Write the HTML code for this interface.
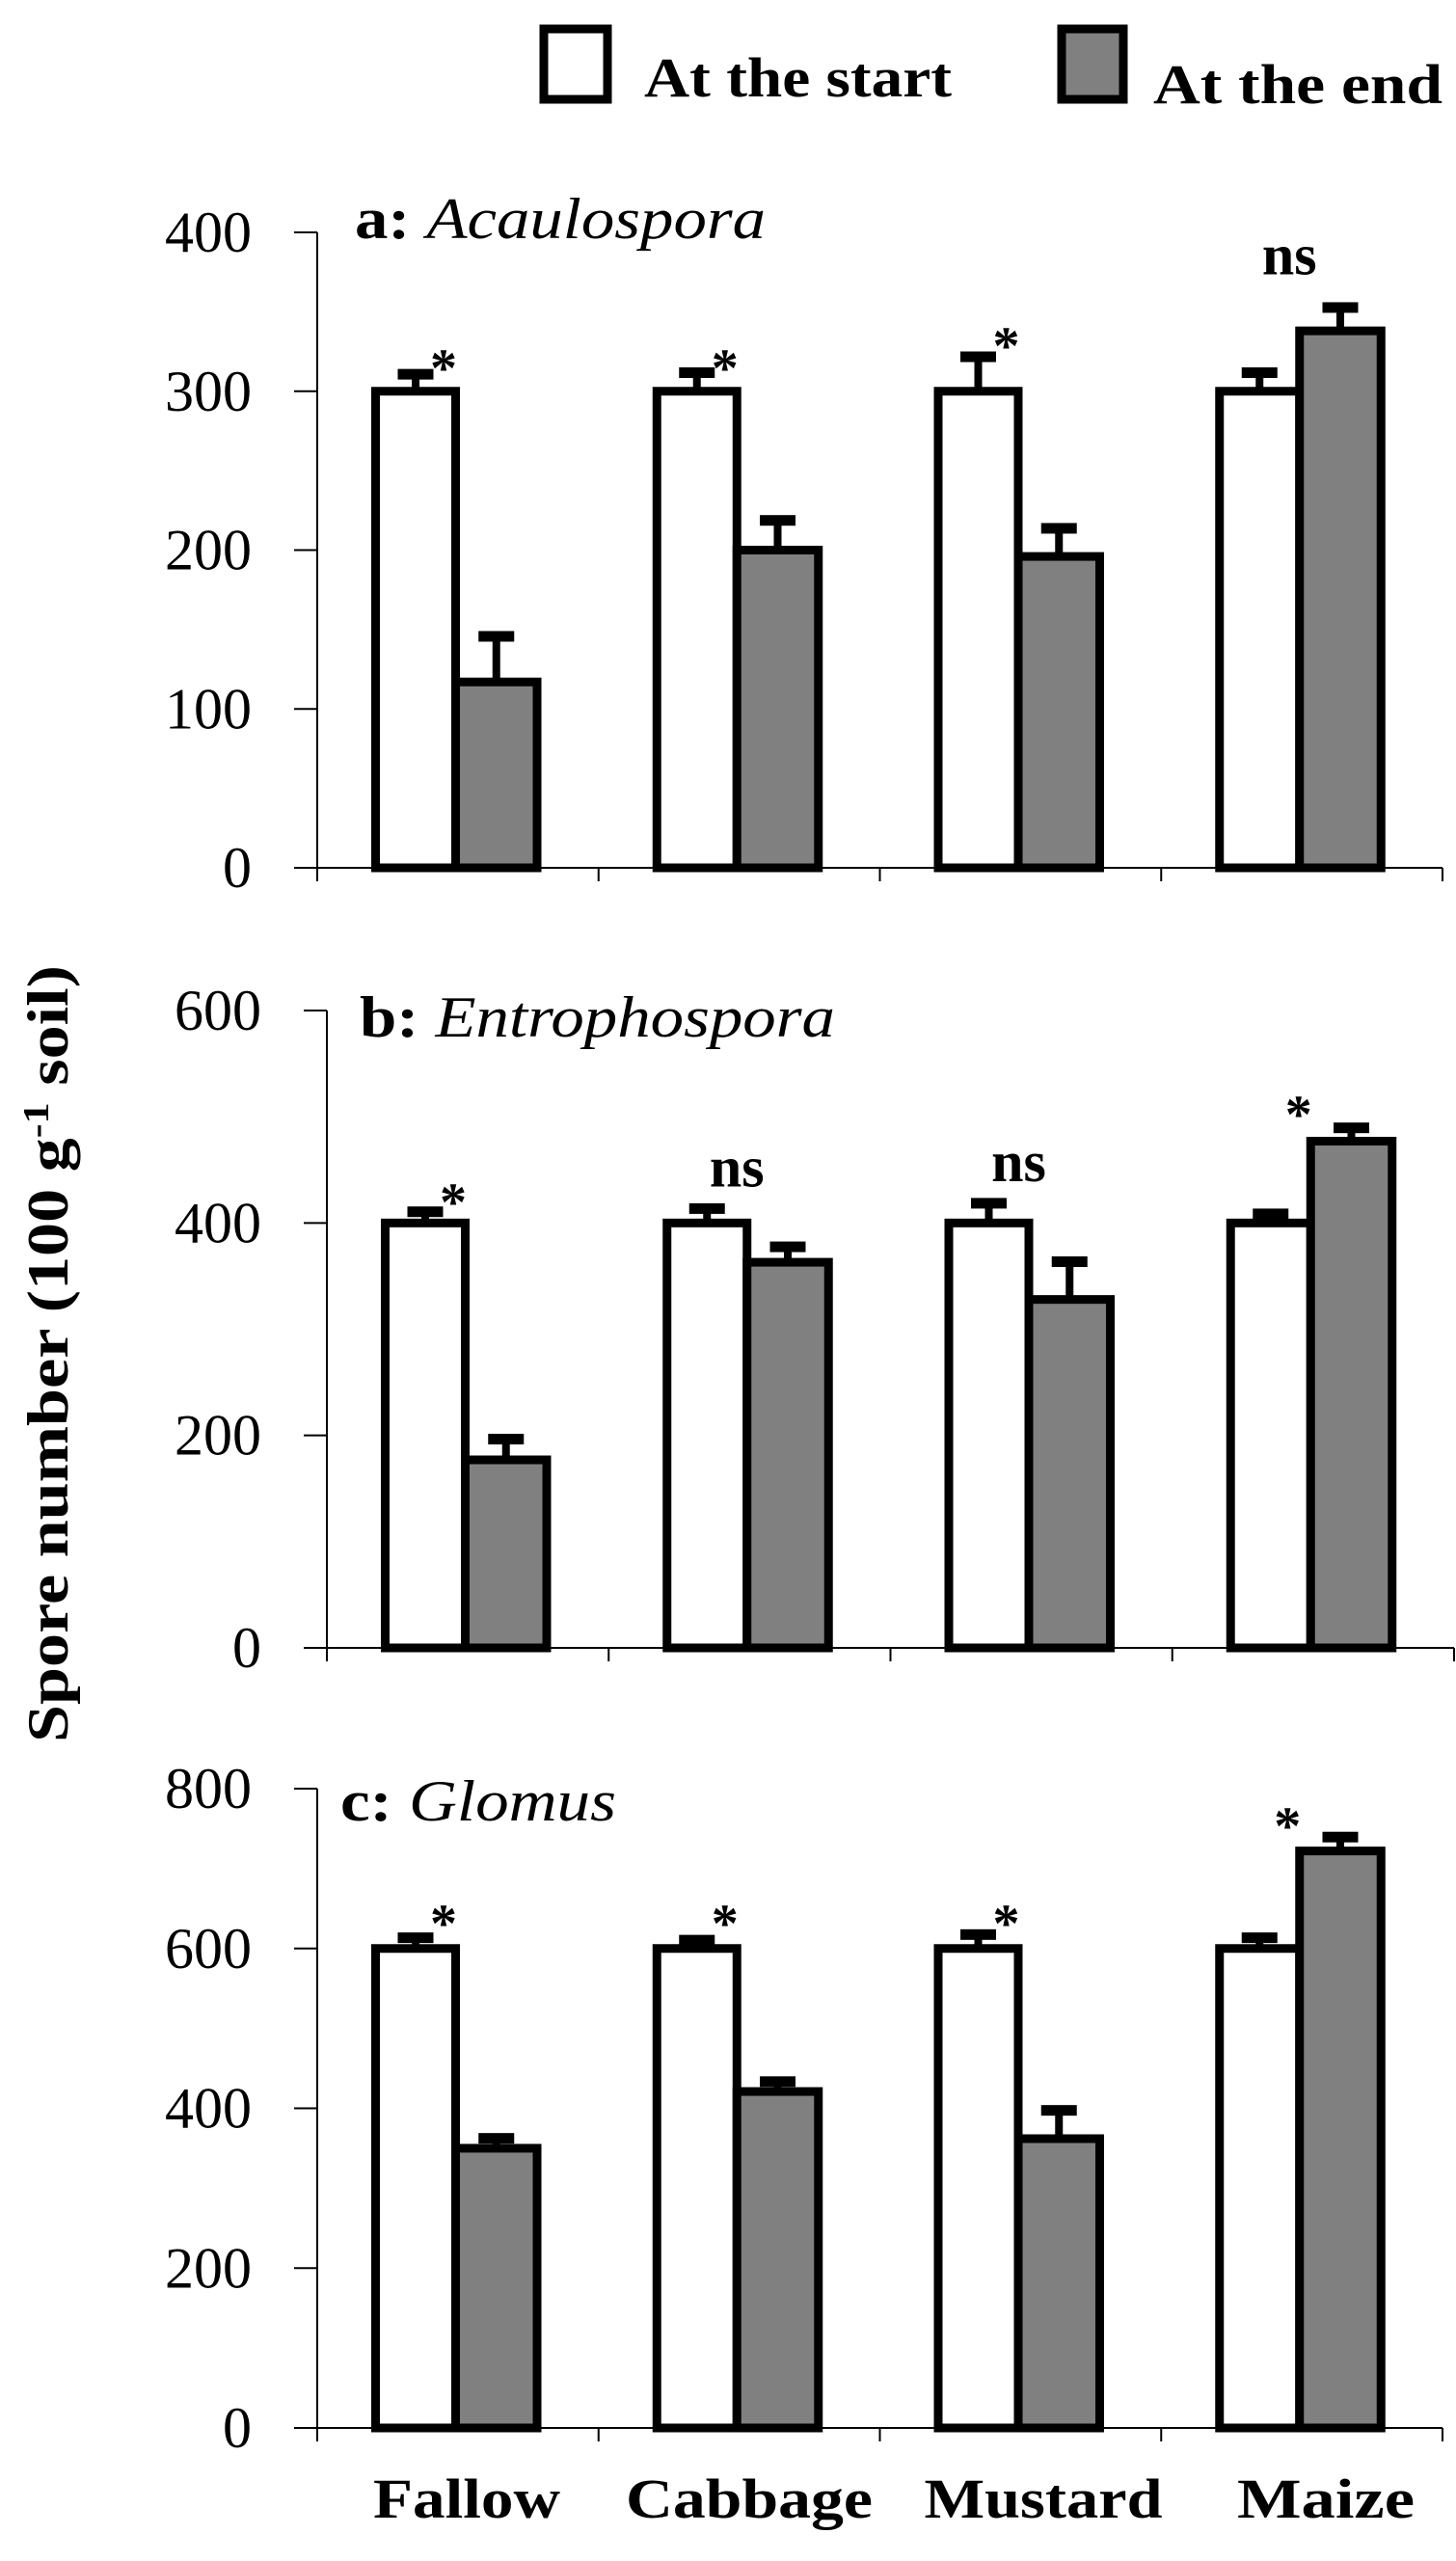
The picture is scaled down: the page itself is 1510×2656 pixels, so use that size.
<!DOCTYPE html>
<html><head><meta charset="utf-8"><style>
html,body{margin:0;padding:0;background:#fff;}
svg{display:block;}
text{font-family:"Liberation Serif",serif;}
</style></head><body>
<svg id="chart" width="1510" height="2656" viewBox="0 0 1510 2656" xmlns="http://www.w3.org/2000/svg">
<g>
<rect x="564" y="30" width="66" height="73" fill="#fff" stroke="#000" stroke-width="9"/>
<text x="668" y="100" font-size="58" font-weight="bold" textLength="319" lengthAdjust="spacingAndGlyphs">At the start</text>
<rect x="1101" y="30" width="64" height="73" fill="#808080" stroke="#000" stroke-width="9"/>
<text x="1196" y="107" font-size="58" font-weight="bold" textLength="300" lengthAdjust="spacingAndGlyphs">At the end</text>
</g>
<text transform="translate(70,1404) rotate(-90)" text-anchor="middle" font-size="60" font-weight="bold" textLength="806" lengthAdjust="spacingAndGlyphs">Spore number (100 g<tspan dy="-20" font-size="38">-1</tspan><tspan dy="20"> soil)</tspan></text>
<g id="panels"></g>
<g>
<text x="484" y="2611" text-anchor="middle" font-size="58" font-weight="bold" textLength="194" lengthAdjust="spacingAndGlyphs">Fallow</text>
<text x="777" y="2611" text-anchor="middle" font-size="58" font-weight="bold" textLength="256" lengthAdjust="spacingAndGlyphs">Cabbage</text>
<text x="1082" y="2611" text-anchor="middle" font-size="58" font-weight="bold" textLength="247" lengthAdjust="spacingAndGlyphs">Mustard</text>
<text x="1375" y="2611" text-anchor="middle" font-size="58" font-weight="bold" textLength="184" lengthAdjust="spacingAndGlyphs">Maize</text>
</g>
</svg>
<script>
const categories = ["Fallow","Cabbage","Mustard","Maize"];
// Panel a: Acaulospora
const aStart = [300,300,300,300];
const aStartErr = [311,312,322,312];
const aEnd = [117,200,196,338];
const aEndErr = [146,219,214,353];
const aSig = ["*","*","*","ns"];
const aSigY = [319,319,333,382];
const aTicks = [0,100,200,300,400];
// Panel b: Entrophospora
const bStart = [400,400,400,400];
const bStartErr = [411,414,419,409];
const bEnd = [177,363,328,477];
const bEndErr = [197,378,364,490];
const bSig = ["*","ns","ns","*"];
const bSigY = [426,447,452,509];
const bTicks = [0,200,400,600];
// Panel c: Glomus
const cStart = [600,600,600,600];
const cStartErr = [614,611,618,614];
const cEnd = [350,421,362,722];
const cEndErr = [363,434,398,740];
const cSig = ["*","*","*","*"];
const cSigY = [640,640,640,762];
const cTicks = [0,200,400,600,800];

const NS = "http://www.w3.org/2000/svg";
const root = document.getElementById('panels');
function mk(tag, attrs, parent){
  const e = document.createElementNS(NS, tag);
  for (const k in attrs) e.setAttribute(k, attrs[k]);
  parent.appendChild(e); return e;
}
function panel(cfg){
  const g = mk('g', {}, root);
  
  
  const y = v => cfg.y0 - v / cfg.max * (cfg.y0 - cfg.yTop);
  const cw = (cfg.xEnd - cfg.x0) / categories.length;
  const ya = mk('line', {x1:cfg.x0, y1:cfg.yTop, x2:cfg.x0, y2:cfg.y0, stroke:'#000','stroke-width':2}, g);
  
  
  cfg.ticks.forEach(t => {
    const ty = y(t);
    const tl = mk('line', {x1:cfg.x0-24, y1:ty, x2:cfg.x0, y2:ty, stroke:'#000','stroke-width':2}, g);
    
    
    const tx = mk('text', {x:cfg.x0-68, y:ty+20, 'text-anchor':'end','font-size':60}, g);
    tx.textContent = t;
    
    
  });
  const title = mk('text', {x:cfg.titleX, y:cfg.titleY, 'font-size':60, textLength:cfg.titleW, lengthAdjust:'spacingAndGlyphs'}, g);
  title.innerHTML = '<tspan font-weight="bold">' + cfg.label + '</tspan> <tspan font-style="italic">' + cfg.genus + '</tspan>';
  
  
  categories.forEach((c, i) => {
    const cx = cfg.x0 + cw * i;
    const wx = cx + 60.5, gx = cx + 143.5;
    const err = (bx, w, top, val) => {
      const mx = bx + w/2;
      const st = mk('rect', {x:mx-4, y:y(top), width:8, height:Math.max(0, y(val)-y(top))}, g);
      
      
      const cp = mk('rect', {x:mx-18.5, y:y(top)-5, width:37, height:11}, g);
      
      
    };
    err(wx, 83, cfg.startErr[i], cfg.start[i]);
    err(gx, 84.5, cfg.endErr[i], cfg.end[i]);
    const r1 = mk('rect', {x:wx, y:y(cfg.start[i]), width:83, height:y(0)-y(cfg.start[i]), fill:'#fff', stroke:'#000','stroke-width':9}, g);
    
    
    const r2 = mk('rect', {x:gx, y:y(cfg.end[i]), width:84.5, height:y(0)-y(cfg.end[i]), fill:'#808080', stroke:'#000','stroke-width':9}, g);
    
    
    const s = cfg.sig[i];
    const isNs = s === 'ns';
    const st = mk('text', {x: cx + (isNs ? 133 : 131), y: y(cfg.sigY[i]) + (isNs ? 14 : 26), 'text-anchor':'middle', 'font-size': isNs?60:56, 'font-weight': 'bold'}, g);
    st.textContent = s;
    
    
  });
  const xa = mk('line', {x1:cfg.x0-24, y1:cfg.y0, x2:cfg.xEnd, y2:cfg.y0, stroke:'#000','stroke-width':2}, g);
  
  
  for (let i = 0; i <= categories.length; i++) {
    const sx = cfg.x0 + cw * i;
    const sl = mk('line', {x1:sx, y1:cfg.y0, x2:sx, y2:cfg.y0+14, stroke:'#000','stroke-width':2}, g);
    
    
  }
}
panel({id:'a', label:'a:', genus:'Acaulospora', x0:329, xEnd:1496, y0:900, yTop:241, max:400, ticks:aTicks, start:aStart, startErr:aStartErr, end:aEnd, endErr:aEndErr, sig:aSig, sigY:aSigY, titleX:368, titleY:247, titleW:426});
panel({id:'b', label:'b:', genus:'Entrophospora', x0:339, xEnd:1508, y0:1709, yTop:1048, max:600, ticks:bTicks, start:bStart, startErr:bStartErr, end:bEnd, endErr:bEndErr, sig:bSig, sigY:bSigY, titleX:373, titleY:1075, titleW:493});
panel({id:'c', label:'c:', genus:'Glomus', x0:329, xEnd:1496, y0:2518, yTop:1855, max:800, ticks:cTicks, start:cStart, startErr:cStartErr, end:cEnd, endErr:cEndErr, sig:cSig, sigY:cSigY, titleX:353, titleY:1888, titleW:286});
</script>
</body></html>
